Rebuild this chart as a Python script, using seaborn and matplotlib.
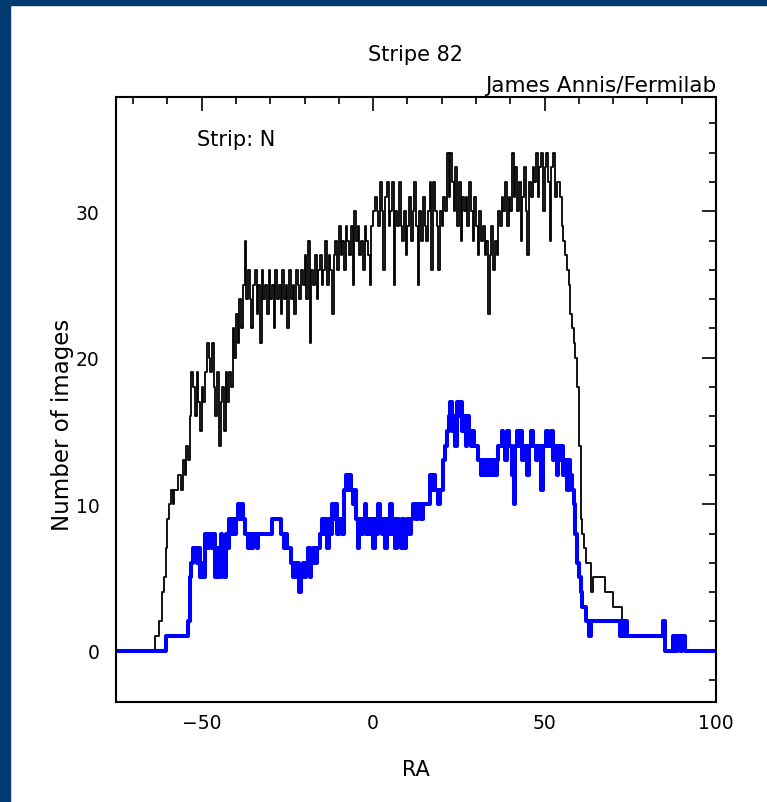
"""
Stripe 82 coverage: number of images per RA bin, strip N.
Black = all imaging runs, blue = good-quality runs.
"""

import numpy as np
import pandas as pd
import matplotlib
matplotlib.use("Agg")
import matplotlib.pyplot as plt
from matplotlib.patches import Rectangle
from matplotlib.ticker import MultipleLocator
import seaborn as sns

# ── Data (images per 0.5 deg bin in RA) ─────────────────────────────────────
BIN = 0.5

ALL_START = -64.0
ALL_COUNTS = [
    0, 1, 1, 2, 2, 4, 5, 7, 9, 10, 11, 10, 11, 11, 12, 12, 11, 13, 12, 14,
    13, 16, 19, 18, 16, 19, 17, 15, 18, 17, 19, 21, 20, 19, 21, 18, 16, 19, 14, 17,
    18, 15, 19, 17, 19, 18, 22, 20, 23, 21, 24, 22, 25, 28, 24, 26, 24, 22, 25, 26,
    23, 25, 21, 26, 24, 25, 23, 26, 24, 25, 22, 26, 24, 25, 23, 26, 24, 25, 22, 26,
    24, 25, 23, 26, 25, 24, 26, 25, 27, 24, 28, 21, 26, 25, 27, 24, 26, 27, 25, 26,
    28, 25, 27, 26, 23, 27, 28, 26, 29, 27, 28, 26, 29, 28, 27, 29, 25, 30, 28, 29,
    27, 28, 26, 29, 28, 27, 25, 29, 30, 31, 30, 29, 32, 30, 26, 31, 32, 29, 30, 32,
    25, 30, 29, 32, 29, 28, 30, 27, 29, 31, 28, 30, 32, 29, 25, 30, 28, 31, 29, 28,
    30, 32, 26, 32, 30, 29, 26, 30, 29, 31, 30, 34, 31, 34, 32, 30, 33, 29, 32, 28,
    31, 30, 31, 29, 32, 30, 28, 31, 29, 27, 30, 28, 29, 27, 28, 23, 27, 29, 26, 28,
    27, 30, 29, 31, 30, 32, 29, 31, 30, 34, 31, 33, 30, 32, 28, 31, 33, 30, 27, 32,
    31, 33, 32, 34, 31, 33, 34, 30, 33, 34, 32, 28, 33, 34, 31, 32, 32, 31, 29, 28,
    27, 26, 25, 23, 22, 21, 20, 18, 14, 9, 8, 7, 6, 6, 6, 4, 5, 5, 5, 5,
    5, 5, 5, 4, 4, 4, 4, 4, 3, 3, 3, 3, 3, 2, 1,
]

GOOD_START = -60.5
GOOD_COUNTS = [
    1, 1, 1, 1, 1, 1, 1, 1, 1, 1, 1, 1, 1, 2, 5, 6, 7, 7, 6, 7,
    5, 6, 5, 8, 7, 8, 8, 7, 8, 5, 7, 5, 8, 6, 5, 8, 7, 9, 8, 9,
    8, 9, 10, 9, 10, 9, 8, 8, 7, 8, 7, 8, 8, 7, 8, 8, 8, 8, 8, 8,
    8, 8, 9, 9, 9, 9, 9, 8, 8, 7, 8, 7, 7, 6, 5, 6, 5, 6, 4, 5,
    6, 5, 6, 7, 5, 6, 7, 6, 7, 7, 8, 9, 8, 9, 7, 9, 8, 10, 9, 10,
    8, 9, 9, 8, 11, 12, 11, 12, 11, 10, 11, 9, 7, 9, 8, 9, 10, 8, 9, 8,
    9, 7, 9, 8, 10, 9, 8, 9, 7, 9, 8, 10, 8, 9, 7, 9, 8, 7, 9, 7,
    8, 9, 8, 9, 10, 10, 9, 10, 10, 9, 10, 10, 10, 10, 12, 11, 12, 11, 11, 10,
    11, 11, 13, 14, 15, 16, 17, 15, 16, 14, 17, 16, 17, 15, 16, 14, 16, 15, 14, 15,
    14, 14, 13, 13, 12, 13, 12, 13, 12, 13, 12, 13, 12, 13, 14, 14, 15, 14, 13, 15,
    14, 14, 12, 10, 14, 15, 14, 15, 13, 14, 14, 12, 14, 15, 14, 14, 13, 14, 14, 11,
    14, 14, 15, 14, 14, 15, 13, 14, 12, 14, 13, 14, 12, 13, 11, 13, 12, 11, 10, 8,
    6, 5, 4, 3, 3, 2, 2, 1, 2, 2, 2, 2, 2, 2, 2, 2, 2, 2, 2, 2,
    2, 2, 2, 2, 2, 1, 2, 1,
]

# sparse coverage beyond RA 73 (same for both samples)
TAIL_RA = [73.5, 74.0, 84.5, 85.0, 87.5, 88.0, 88.5, 89.5, 90.0, 91.0]
ALL_TAIL = [2, 1, 2, 0, 1, 0, 1, 0, 1, 0]
GOOD_TAIL = [2, 1, 2, 0, 1, 0, 1, 0, 1, 0]

RA_MIN, RA_MAX = -75.0, 100.0

NAVY = "#003a70"
BLUE = "#0000ff"


def build(start, counts, tail_ra, tail):
    ra = start + BIN * np.arange(len(counts))
    ra = np.concatenate([[RA_MIN], ra, tail_ra, [RA_MAX]])
    n = np.concatenate([[0], counts, tail, [tail[-1]]])
    return pd.DataFrame({"RA": ra, "n": n})


df_all = build(ALL_START, ALL_COUNTS, TAIL_RA, ALL_TAIL)
df_good = build(GOOD_START, GOOD_COUNTS, TAIL_RA, GOOD_TAIL)

# ── Plot ────────────────────────────────────────────────────────────────────
sns.set_theme(style="white")
plt.rcParams["font.family"] = ["DejaVu Sans"]
plt.rcParams.update({"text.color": "black", "axes.labelcolor": "black",
                     "xtick.color": "black", "ytick.color": "black"})

W, H = 767, 803
fig = plt.figure(figsize=(W / 100, H / 100), dpi=100)
fig.patch.set_facecolor("white")
ax = fig.add_axes([116 / W, 1 - 703 / H, 600 / W, 605 / H])

sns.lineplot(data=df_all, x="RA", y="n", ax=ax, color="black", lw=1.3,
             drawstyle="steps-post", estimator=None, sort=False)
sns.lineplot(data=df_good, x="RA", y="n", ax=ax, color=BLUE, lw=2.9,
             drawstyle="steps-post", estimator=None, sort=False)

ax.set_xlim(RA_MIN, RA_MAX)
ax.set_ylim(-3.5, 37.8)
ax.xaxis.set_major_locator(MultipleLocator(50))
ax.xaxis.set_minor_locator(MultipleLocator(10))
ax.yaxis.set_major_locator(MultipleLocator(10))
ax.yaxis.set_minor_locator(MultipleLocator(2))
ax.tick_params(which="both", direction="in", top=True, right=True,
               color="black", width=1.2)
ax.tick_params(which="major", length=10)
ax.tick_params(which="minor", length=5)
ax.tick_params(axis="x", which="major", labelsize=13.5, pad=8)
ax.tick_params(axis="y", which="major", labelsize=13.5, pad=12)
for sp in ax.spines.values():
    sp.set_color("black")
    sp.set_linewidth(1.5)

ax.set_xlabel("RA", fontsize=15)
ax.set_ylabel("Number of images", fontsize=16.5)
ax.xaxis.set_label_coords(0.5, -0.095)
ax.yaxis.set_label_coords(-0.07, 0.46)

ax.text(0.135, 0.93, "Strip: N", transform=ax.transAxes, fontsize=15,
        ha="left", va="center")
fig.text(416 / W, 1 - 55 / H, "Stripe 82", fontsize=15,
         ha="center", va="center")
fig.text(716 / W, 1 - 92 / H, "James Annis/Fermilab", fontsize=15.5,
         ha="right", va="baseline")

# dark frame on the top and left edges
fig.patches.append(Rectangle((0, 0), 10 / W, 1, transform=fig.transFigure,
                             color=NAVY, zorder=10))
fig.patches.append(Rectangle((0, 1 - 6 / H), 1, 6 / H,
                             transform=fig.transFigure, color=NAVY, zorder=10))

fig.savefig("out.png", dpi=100)
